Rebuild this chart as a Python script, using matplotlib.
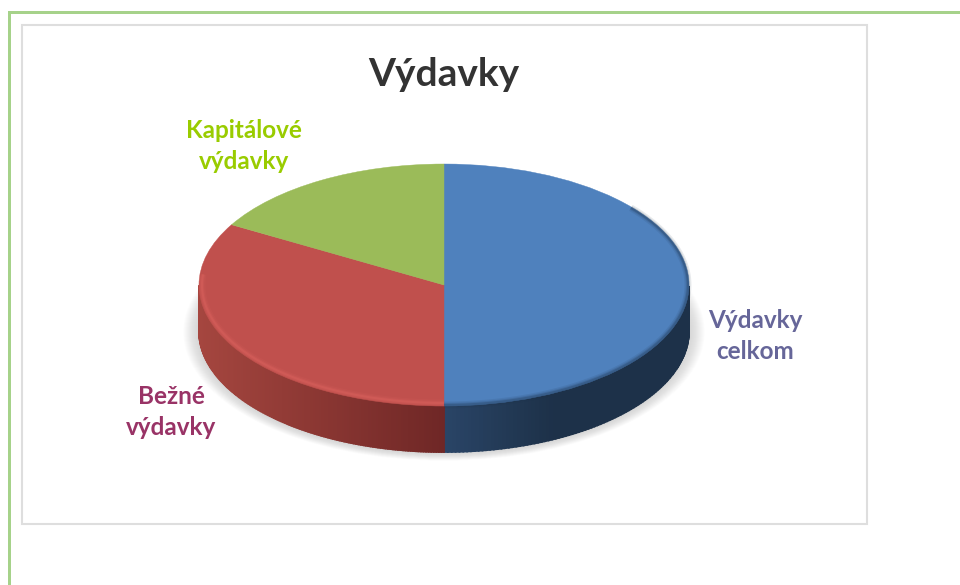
import numpy as np
import matplotlib
matplotlib.use("Agg")
import matplotlib.pyplot as plt
from matplotlib.colors import to_rgb
from matplotlib.patches import Ellipse, Polygon, Rectangle, Wedge
from matplotlib.transforms import Affine2D

# Data
labels = ["Výdavky\ncelkom", "Bežné\nvýdavky", "Kapitálové\nvýdavky"]
values = [50, 33.3, 16.7]
top_colors = ["#4f81bd", "#c0504d", "#9bbb59"]
wall_light = ["#2a4567", "#a5463f", "#9bbb59"]
wall_dark = ["#1d3149", "#6f2726", "#9bbb59"]
label_colors = ["#666699", "#993366", "#99cc00"]
title = "Výdavky"

plt.rcParams["font.family"] = ["Lato", "DejaVu Sans"]
H = 585
CX, CY, RX, RY, DEPTH = 444, H - 285, 245, 121, 46

fig = plt.figure(figsize=(9.6, 5.85), dpi=100)
ax = fig.add_axes([0, 0, 1, 1])
ax.set_xlim(0, 960)
ax.set_ylim(0, H)
ax.axis("off")

# page border and chart frame
ax.add_patch(Rectangle((8, -5), 3, H - 11 + 5, color="#a6d28a", lw=0))
ax.add_patch(Rectangle((8, H - 14), 960, 3, color="#a6d28a", lw=0))
ax.add_patch(Rectangle((22, H - 523.5), 845, 499, fc="white", ec="#dedede", lw=1.5))

# soft shadow under the disc
for k in range(16):
    grow = 1 + 0.004 * (16 - k)
    ax.add_patch(Ellipse((CX, CY - DEPTH - 1), 2 * RX * grow, 2 * RY * grow,
                         fc="#808080", ec="none", alpha=0.02, zorder=1))

# slice angles, clockwise from 12 o'clock
fracs = np.array(values) / sum(values)
ends = 90 - 360 * np.cumsum(fracs)
starts = np.r_[90, ends[:-1]]

# side wall, only the front half (sin < 0) is visible
for a0, a1, c0, c1 in zip(starts, ends, wall_light, wall_dark):
    th = np.radians(np.linspace(a0, a1, 200))
    th = th[np.sin(th) <= 0]
    if len(th) < 2:
        continue
    for t0, t1 in zip(th[:-1], th[1:]):
        # shade goes dark towards the middle for red, and from the middle outward for blue
        if a0 == 90:
            mix = min(1, abs(np.cos(t0)) / 0.45)
        else:
            mix = 1 - abs(np.cos(t0))
        col = np.array(to_rgb(c0)) * (1 - mix) + np.array(to_rgb(c1)) * mix
        x0, x1 = CX + RX * np.cos(t0), CX + RX * np.cos(t1)
        y0, y1 = CY + RY * np.sin(t0), CY + RY * np.sin(t1)
        ax.add_patch(Polygon([(x0, y0), (x1, y1), (x1, y1 - DEPTH), (x0, y0 - DEPTH)],
                             fc=col, ec=col, lw=1.3, zorder=2))

# top face
face = Affine2D().scale(RX, RY).translate(CX, CY) + ax.transData
for a0, a1, c in zip(starts, ends, top_colors):
    ax.add_patch(Wedge((0, 0), 1, a1, a0, fc=c, ec=c, lw=0.3, transform=face, zorder=3))

# bevel along the rim of the top face
th_red = np.radians(np.linspace(starts[1], ends[1], 200))
th_blue = np.radians(np.linspace(-90, 40, 300))
for w, al in [(5, 0.1), (3, 0.16), (1.5, 0.25)]:
    sel = th_red[np.sin(th_red) < 0.1]
    ax.plot(CX + (RX - 3) * np.cos(sel), CY + (RY - 3) * np.sin(sel),
            color="#e56a64", lw=w, alpha=al, zorder=4, solid_capstyle="butt")
    ax.plot(CX + (RX - 1) * np.cos(th_blue), CY + (RY - 1) * np.sin(th_blue),
            color="#1d3149", lw=w, alpha=al, zorder=4, solid_capstyle="butt")

# text
ax.text(444, H - 74, title, color="#333333", fontsize=28, fontweight="bold",
        ha="center", va="center", zorder=5)
label_pos = [(755, H - 336), (171, H - 412), (244, H - 146)]
for txt, c, (lx, ly) in zip(labels, label_colors, label_pos):
    ax.text(lx, ly, txt, color=c, fontsize=17.5, fontweight="bold", ha="center",
            va="center", linespacing=1.45, zorder=5)

plt.savefig("out.png", dpi=100)
plt.close()
